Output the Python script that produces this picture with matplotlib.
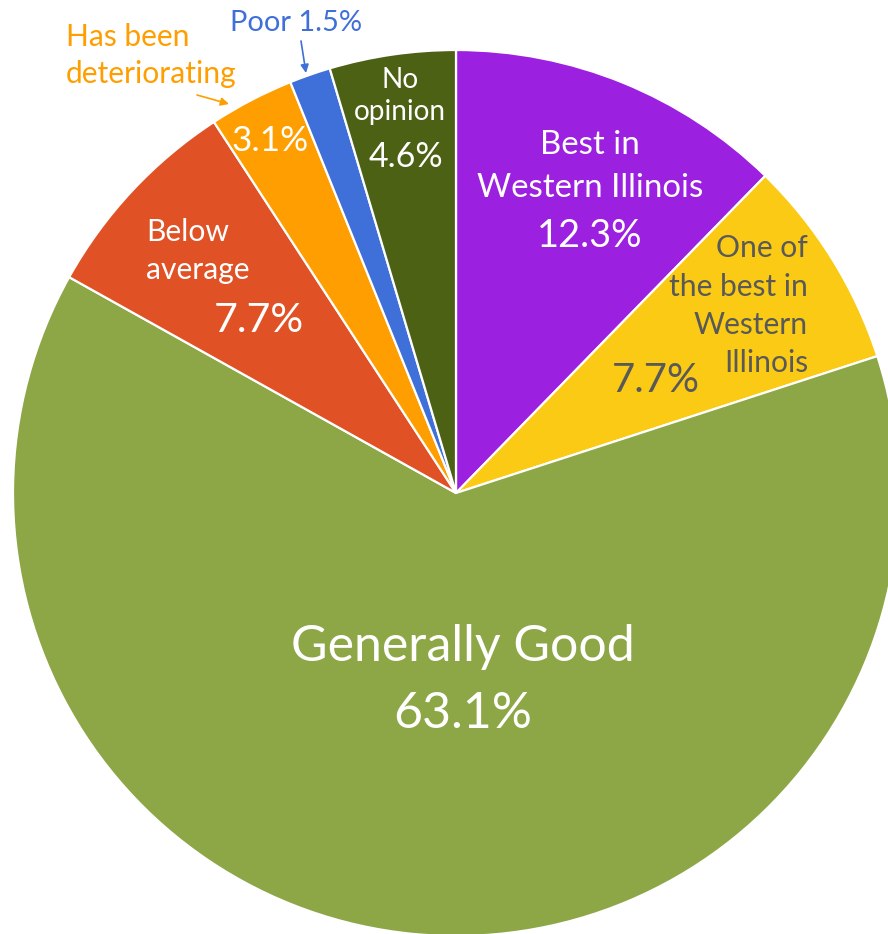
import numpy as np
import matplotlib
matplotlib.use('Agg')
import matplotlib.pyplot as plt

### data
categories = ['Best in Western Illinois', 'One of the best in Western Illinois',
              'Generally Good', 'Below average', 'Has been deteriorating',
              'Poor', 'No opinion']
shares = [12.3, 7.7, 63.1, 7.7, 3.1, 1.5, 4.6]
colors = ['#9C20E0', '#FACA14', '#8DA646', '#E05226', '#FF9E00', '#3F6FD8', '#4D6114']

W, H = 888, 934
plt.rcParams['font.family'] = ['Lato', 'DejaVu Sans']


def px(size):
    # pixel height -> points at 100 dpi
    return size * 72 / 100.0


def main():
    fig = plt.figure(figsize=(W / 100, H / 100), dpi=100)
    ax = fig.add_axes([0, 0, 1, 1])

    ax.pie(shares, colors=colors, startangle=90, counterclock=False,
           center=(456, H - 493), radius=443,
           wedgeprops=dict(edgecolor='white', linewidth=1.6))
    ax.set_xlim(0, W)
    ax.set_ylim(0, H)
    ax.set_aspect('equal')
    ax.axis('off')

    def txt(x, y, s, size, color='white', ha='center'):
        ax.text(x, H - y, s, fontsize=px(size), color=color, ha=ha, va='center')

    grey = '#595959'
    # Best in Western Illinois
    txt(590, 145, 'Best in', 33)
    txt(590, 188, 'Western Illinois', 33)
    txt(590, 236, '12.3%', 38)
    # One of the best
    for i, line in enumerate(['One of', 'the best in', 'Western', 'Illinois']):
        txt(808, 248 + i * 38.5, line, 30, color=grey, ha='right')
    txt(656, 381, '7.7%', 40, color=grey)
    # Generally good
    txt(463, 647, 'Generally Good', 50)
    txt(463, 714, '63.1%', 50)
    # Below average
    txt(146, 232, 'Below', 30, ha='left')
    txt(146, 270, 'average', 30, ha='left')
    txt(259, 320, '7.7%', 41)
    # small wedges
    txt(270, 141, '3.1%', 35)
    txt(400, 80, 'No', 28)
    txt(400, 112, 'opinion', 28)
    txt(406, 157, '4.6%', 34)

    # outside labels with arrows
    txt(66, 37, 'Has been', 30, color='#FF9E00', ha='left')
    txt(66, 74, 'deteriorating', 30, color='#FF9E00', ha='left')
    ax.annotate('', xy=(229, H - 104), xytext=(197, H - 95),
                arrowprops=dict(arrowstyle='-|>', color='#FF9E00', lw=1.2,
                                mutation_scale=12, shrinkA=0, shrinkB=0))
    txt(296, 23, 'Poor 1.5%', 29, color='#3F6FD8')
    ax.annotate('', xy=(306, H - 73), xytext=(301, H - 41),
                arrowprops=dict(arrowstyle='-|>', color='#3F6FD8', lw=1.2,
                                mutation_scale=12, shrinkA=0, shrinkB=0))

    fig.savefig('out.png', dpi=100)


if __name__ == '__main__':
    main()
